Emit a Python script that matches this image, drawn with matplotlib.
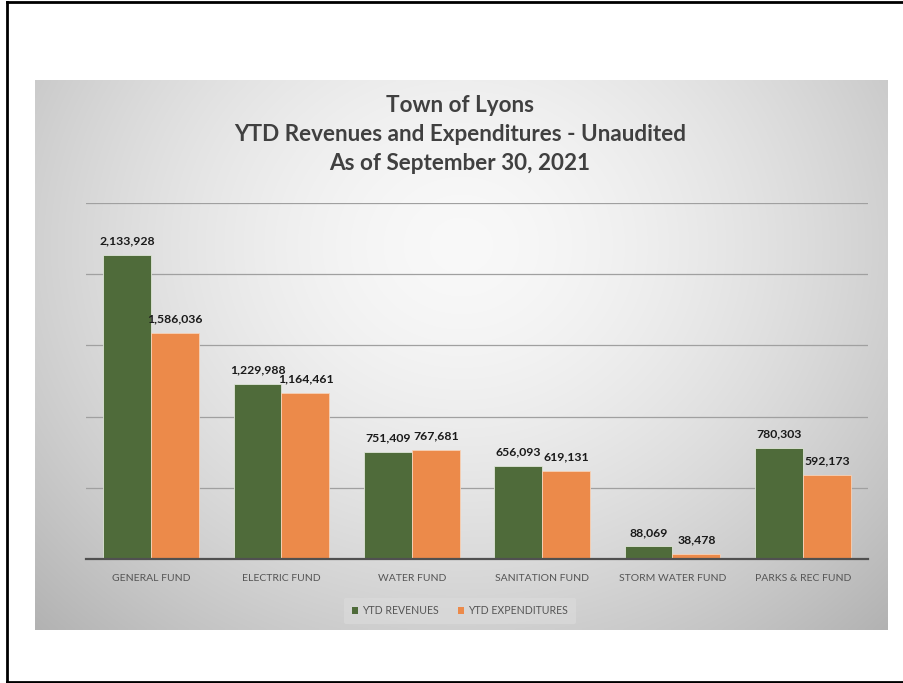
import numpy as np
import matplotlib.pyplot as plt
from matplotlib.lines import Line2D
from matplotlib.patches import Patch

plt.rcParams['font.family'] = ['Lato', 'DejaVu Sans']

# データ
funds = ['GENERAL FUND', 'ELECTRIC FUND', 'WATER FUND', 'SANITATION FUND',
         'STORM WATER FUND', 'PARKS & REC FUND']
revenues = [2133928, 1229988, 751409, 656093, 88069, 780303]
expenditures = [1586036, 1164461, 767681, 619131, 38478, 592173]
series_names = ['YTD REVENUES', 'YTD EXPENDITURES']
title_lines = ['Town of Lyons', 'YTD Revenues and Expenditures - Unaudited',
               'As of September 30, 2021']

c_green = '#4f6b3a'
c_orange = '#ec8a4a'

W, H = 904, 683
fig = plt.figure(figsize=(W / 100, H / 100), dpi=100)
fig.patch.set_facecolor('white')

# 背景のグラデーション (チャート領域)
cl, cr, ct, cb = 35, 888, 80, 630
ax_bg = fig.add_axes([cl / W, 1 - cb / H, (cr - cl) / W, (cb - ct) / H])
ny, nx = 200, 300
yy, xx = np.mgrid[0:1:ny * 1j, 0:1:nx * 1j]
r = np.sqrt(((xx - 0.5) / 0.62) ** 2 + ((yy - 0.3) / 0.85) ** 2)
g = 0.975 - 0.22 * np.clip(r, 0, 1.3) ** 1.6
ax_bg.imshow(np.dstack([g, g, g]), extent=[0, 1, 1, 0], aspect='auto',
             interpolation='bilinear')
ax_bg.set_axis_off()

# メインの軸
x0, x1, ybase, ytop = 86, 868, 559, 203
ax = fig.add_axes([x0 / W, 1 - ybase / H, (x1 - x0) / W, (ybase - ytop) / H])
ax.patch.set_alpha(0)
x = np.arange(len(funds))
bw = 0.368
b1 = ax.bar(x - bw / 2, revenues, bw, color=c_green, edgecolor='#dfe6d8',
            linewidth=0.6, zorder=3)
b2 = ax.bar(x + bw / 2, expenditures, bw, color=c_orange, edgecolor='#f6d2b8',
            linewidth=0.6, zorder=3)
for bars in (b1, b2):
    for rect in bars:
        v = rect.get_height()
        ax.text(rect.get_x() + rect.get_width() / 2, v + 60000, f'{v:,.0f}',
                ha='center', va='bottom', fontsize=8.8, fontweight='bold',
                color='#1a1a1a', zorder=4)

ax.set_xlim(-0.5, len(funds) - 0.5)
ax.set_ylim(0, 2500000)
ax.set_yticks(np.arange(0, 2500001, 500000))
ax.yaxis.grid(True, color='#a0a0a0', linewidth=0.9, zorder=0)
ax.tick_params(axis='y', left=False, labelleft=False)
ax.tick_params(axis='x', bottom=False, pad=7)
ax.set_xticks(x)
ax.set_xticklabels(funds, fontsize=7.5, color='#555555')
for s in ['top', 'right', 'left']:
    ax.spines[s].set_visible(False)
ax.spines['bottom'].set_color('#505050')
ax.spines['bottom'].set_linewidth(1.6)
ax.spines['bottom'].set_zorder(5)

# タイトル
for i, t in enumerate(title_lines):
    fig.text(460 / W, 1 - (106 + i * 28.5) / H, t, ha='center', va='center',
             fontsize=16.2, fontweight='bold', color='#404040')

# 凡例
handles = [Patch(facecolor=c_green), Patch(facecolor=c_orange)]
leg = fig.legend(handles, series_names, loc='center', ncol=2,
                 bbox_to_anchor=(460 / W, 1 - 611 / H), fontsize=7.6,
                 frameon=True, handlelength=0.6, handleheight=0.6,
                 handletextpad=0.4, columnspacing=1.8, borderpad=0.7)
leg.get_frame().set_facecolor('#dcdcdc')
leg.get_frame().set_edgecolor('none')
leg.get_frame().set_alpha(0.6)
for t in leg.get_texts():
    t.set_color('#555555')

# 外枠
fig.add_artist(Line2D([7 / W, 7 / W], [1 - 2 / H, 1 - 682 / H], color='black',
                      linewidth=2, transform=fig.transFigure))
fig.add_artist(Line2D([7 / W, 1], [1 - 2 / H, 1 - 2 / H], color='black',
                      linewidth=2, transform=fig.transFigure))
fig.add_artist(Line2D([7 / W, 1], [1 - 682 / H, 1 - 682 / H], color='black',
                      linewidth=2, transform=fig.transFigure))

plt.savefig('out.png', dpi=100)
